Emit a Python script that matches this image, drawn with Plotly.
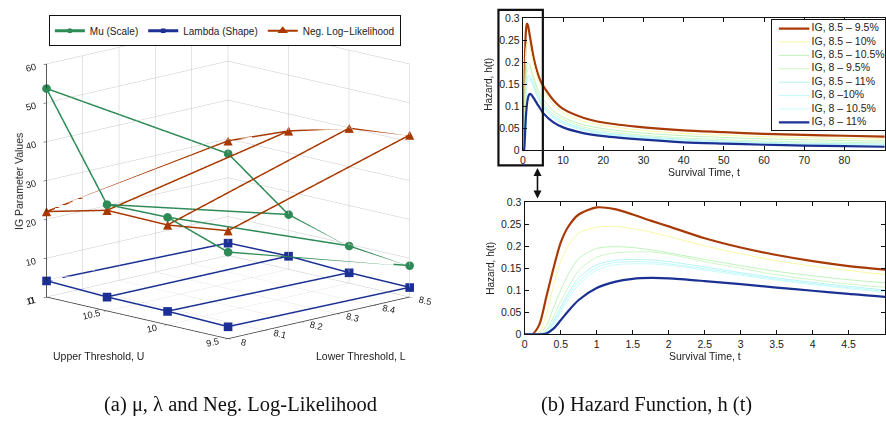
import plotly.graph_objects as go

# ---------------- (a) IG parameter fits over the threshold grid ----------------
lower_L = [8.0, 8.5]                 # lower threshold L
upper_U = [11.0, 10.5, 10.0, 9.5]    # upper threshold U

mu_at_L8 = [53.7, 27.4, 27.7, 22.3]
mu_at_L85 = [26.2, 14.1, 9.6, 8.1]
lam_at_L8 = [4.2, 3.6, 3.5, 3.1]
lam_at_L85 = [3.2, 3.4, 2.7, 2.5]
nll_at_L8 = [22.0, 25.9, 25.7, 27.8]
nll_at_L85 = [29.5, 35.6, 39.9, 41.7]

# ---------------- (b) hazard functions ----------------
t_vals = [0, 0.1, 0.2, 0.3, 0.4, 0.5, 0.6, 0.75, 1.0, 1.25, 1.5, 1.75, 2.0, 2.5,
          3.0, 3.5, 4.0, 4.5, 5.0, 7.5, 10, 15, 20, 30, 40, 50, 60, 70, 80, 90]

h_85_95 = [0, 0.0, 0.021, 0.085, 0.150, 0.208, 0.243, 0.272, 0.288, 0.284, 0.272, 0.258,
           0.245, 0.218, 0.197, 0.180, 0.166, 0.155, 0.147, 0.115, 0.094, 0.074, 0.063,
           0.052, 0.045, 0.041, 0.037, 0.035, 0.033, 0.031]
h_85_10 = [0, 0.0, 0.005, 0.045, 0.110, 0.165, 0.200, 0.230, 0.243, 0.245, 0.240, 0.232,
           0.222, 0.201, 0.183, 0.167, 0.155, 0.145, 0.136, 0.105, 0.085, 0.066, 0.056,
           0.045, 0.038, 0.034, 0.031, 0.029, 0.027, 0.026]
h_85_105 = [0, 0.0, 0.001, 0.020, 0.060, 0.100, 0.135, 0.172, 0.195, 0.199, 0.197, 0.192,
            0.185, 0.170, 0.156, 0.143, 0.133, 0.124, 0.117, 0.090, 0.075, 0.058, 0.049,
            0.039, 0.033, 0.029, 0.026, 0.024, 0.022, 0.021]
h_8_95 = [0, 0.0, 0.0, 0.010, 0.040, 0.075, 0.105, 0.145, 0.175, 0.185, 0.187, 0.187,
          0.182, 0.165, 0.150, 0.135, 0.124, 0.114, 0.107, 0.083, 0.070, 0.053, 0.044,
          0.034, 0.028, 0.024, 0.021, 0.019, 0.018, 0.017]
h_85_11 = [0, 0.0, 0.0, 0.006, 0.030, 0.062, 0.092, 0.128, 0.158, 0.168, 0.170, 0.169,
           0.165, 0.153, 0.140, 0.128, 0.118, 0.109, 0.101, 0.078, 0.065, 0.049, 0.040,
           0.031, 0.025, 0.021, 0.018, 0.016, 0.015, 0.014]
h_8_10 = [0, 0.0, 0.0, 0.004, 0.025, 0.055, 0.085, 0.120, 0.152, 0.163, 0.165, 0.164,
          0.160, 0.149, 0.137, 0.125, 0.115, 0.106, 0.098, 0.075, 0.062, 0.047, 0.038,
          0.029, 0.023, 0.019, 0.016, 0.014, 0.013, 0.012]
h_8_105 = [0, 0.0, 0.0, 0.003, 0.020, 0.049, 0.078, 0.113, 0.146, 0.158, 0.160, 0.160,
           0.157, 0.146, 0.134, 0.123, 0.113, 0.104, 0.096, 0.073, 0.060, 0.045, 0.036,
           0.027, 0.021, 0.018, 0.015, 0.013, 0.012, 0.011]
h_8_11 = [0, 0.0, 0.0, 0.002, 0.013, 0.032, 0.052, 0.078, 0.105, 0.119, 0.126, 0.128,
          0.127, 0.121, 0.114, 0.106, 0.099, 0.092, 0.085, 0.064, 0.052, 0.039, 0.032,
          0.024, 0.018, 0.015, 0.0125, 0.0105, 0.0095, 0.008]

hazard_labels = ["IG, 8.5 \u2013 9.5%", "IG, 8.5 \u2013 10%", "IG, 8.5 \u2013 10.5%",
                 "IG, 8 \u2013 9.5%", "IG, 8.5 \u2013 11%", "IG, 8 \u201310%",
                 "IG, 8 \u2013 10.5%", "IG, 8 \u2013 11%"]
hazard_series = [h_85_95, h_85_10, h_85_105, h_8_95, h_85_11, h_8_10, h_8_105, h_8_11]
hazard_colors = ["#a83a06", "#f7f7a6", "#bff2bb", "#cdf7c4", "#b5f4f4", "#c0f8fa",
                 "#c9fbfb", "#1b3093"]
hazard_widths = [2.2, 1, 1, 1, 1, 1, 1, 2.2]

FONT = "Liberation Sans, Arial, sans-serif"
GREEN, BLUE, RED = "#2e8b57", "#1b2f94", "#a83800"


def grid_lines(v8, v85):
    """Polylines along U at each L, and along L at each U."""
    xs, ys, zs = [], [], []
    for L, vals in zip(lower_L, (v8, v85)):
        xs += [L] * len(upper_U) + [None]
        ys += upper_U + [None]
        zs += list(vals) + [None]
    for i, U in enumerate(upper_U):
        xs += [lower_L[0], lower_L[1], None]
        ys += [U, U, None]
        zs += [v8[i], v85[i], None]
    return xs, ys, zs


fig = go.Figure()

# Mu (Scale)
x, y, z = grid_lines(mu_at_L8, mu_at_L85)
fig.add_trace(go.Scatter3d(x=x, y=y, z=z, mode="lines+markers", name="Mu (Scale)",
                           line=dict(color=GREEN, width=3),
                           marker=dict(symbol="circle", size=5, color=GREEN),
                           hoverinfo="skip"))
# Lambda (Shape)
x, y, z = grid_lines(lam_at_L8, lam_at_L85)
fig.add_trace(go.Scatter3d(x=x, y=y, z=z, mode="lines+markers", name="Lambda (Shape)",
                           line=dict(color=BLUE, width=3),
                           marker=dict(symbol="square", size=4.5, color=BLUE),
                           hoverinfo="skip"))
# legend entry for the triangle-marked series
fig.add_trace(go.Scatter(x=[None], y=[None], xaxis="x2", yaxis="y2", mode="lines+markers",
                         name="Neg. Log\u2212Likelihood",
                         line=dict(color=RED, width=2),
                         marker=dict(symbol="triangle-up", size=9, color=RED)))
# Neg. Log-Likelihood
x, y, z = grid_lines(nll_at_L8, nll_at_L85)
fig.add_trace(go.Scatter3d(x=x, y=y, z=z, mode="lines", showlegend=False,
                           line=dict(color=RED, width=3), hoverinfo="skip"))
pts_L = [lower_L[0]] * 4 + [lower_L[1]] * 4
pts_U = upper_U + upper_U
fig.add_trace(go.Scatter3d(x=pts_L, y=pts_U, z=nll_at_L8 + nll_at_L85, mode="text",
                           text=["\u25b2"] * 8, textposition="middle center",
                           textfont=dict(color=RED, size=12, family="DejaVu Sans"),
                           showlegend=False, hoverinfo="skip"))

# hazard curves: full range (top) and zoom on 0-5 (bottom)
for lbl, h, c, w in zip(hazard_labels, hazard_series, hazard_colors, hazard_widths):
    for xa, ya in (("x2", "y2"), ("x3", "y3")):
        fig.add_trace(go.Scatter(x=t_vals, y=h, xaxis=xa, yaxis=ya, mode="lines",
                                 name=lbl, showlegend=False, hoverinfo="skip",
                                 line=dict(color=c, width=w, shape="spline",
                                           smoothing=0.8)))

# legend box of the hazard panel
rows = list(range(1, len(hazard_labels) + 1))
for r, c, w in zip(rows, hazard_colors, hazard_widths):
    fig.add_trace(go.Scatter(x=[0.06, 0.33], y=[r, r], xaxis="x4", yaxis="y4",
                             mode="lines", showlegend=False, hoverinfo="skip",
                             line=dict(color=c, width=w)))
fig.add_trace(go.Scatter(x=[0.35] * len(rows), y=rows, xaxis="x4", yaxis="y4",
                         mode="text", text=hazard_labels, textposition="middle right",
                         textfont=dict(family=FONT, size=10.5, color="#222"),
                         showlegend=False, hoverinfo="skip"))

ax3d = dict(showbackground=False, gridcolor="#c8c8c8", gridwidth=1, zeroline=False,
            showline=True, linecolor="#222", linewidth=1.5, ticks="outside",
            tickcolor="#222", ticklen=4, showspikes=False, title=dict(text=""),
            tickfont=dict(family=FONT, size=10.5, color="#222"))

cart = dict(showline=True, mirror="ticks", linecolor="#111", linewidth=1.3,
            ticks="inside", ticklen=4, tickcolor="#111", showgrid=False, zeroline=False,
            tickfont=dict(family=FONT, size=10.5, color="#222"), fixedrange=True)

fig.update_layout(
    width=886, height=435, margin=dict(l=0, r=0, t=0, b=0),
    paper_bgcolor="white", plot_bgcolor="white",
    scene=dict(
        domain=dict(x=[0.0, 0.510], y=[0.177, 0.997]),
        xaxis=dict(ax3d, range=[8, 8.5], dtick=0.1),
        yaxis=dict(ax3d, range=[9.5, 11], dtick=0.5),
        zaxis=dict(ax3d, range=[0, 60], dtick=10),
        aspectmode="manual", aspectratio=dict(x=1.48, y=1.48, z=1.38),
        camera=dict(eye=dict(x=-1.5, y=-1.5, z=0.5), up=dict(x=0, y=0, z=1),
                    center=dict(x=0, y=0, z=0),
                    projection=dict(type="orthographic")),
        bgcolor="white",
    ),
    xaxis2=dict(cart, domain=[0.5895, 1.0], range=[0, 90.1], dtick=10, anchor="y2",
                title=dict(text="Survival Time, t", standoff=2,
                           font=dict(family=FONT, size=10.5, color="#222"))),
    yaxis2=dict(cart, domain=[0.659, 0.971], range=[0, 0.3], dtick=0.05, anchor="x2",
                title=dict(text="Hazard, h(t)", standoff=4,
                           font=dict(family=FONT, size=10, color="#222"))),
    xaxis3=dict(cart, domain=[0.5915, 1.0], range=[0, 5.005], dtick=0.5, anchor="y3",
                title=dict(text="Survival Time, t", standoff=2,
                           font=dict(family=FONT, size=10.5, color="#222"))),
    yaxis3=dict(cart, domain=[0.2237, 0.5363], range=[0, 0.3], dtick=0.05, anchor="x3",
                title=dict(text="Hazard, h(t)", standoff=4,
                           font=dict(family=FONT, size=10, color="#222"))),
    xaxis4=dict(domain=[0.872, 1.0], range=[0, 1], anchor="y4", showline=True,
                mirror=True, linecolor="#111", linewidth=1.3, showticklabels=False,
                ticks="", showgrid=False, zeroline=False, fixedrange=True),
    yaxis4=dict(domain=[0.706, 0.968], range=[8.59, 0.33], anchor="x4", showline=True,
                mirror=True, linecolor="#111", linewidth=1.3, showticklabels=False,
                ticks="", showgrid=False, zeroline=False, fixedrange=True),
    legend=dict(orientation="h", x=0.052, y=0.978, xanchor="left", yanchor="top",
                bordercolor="#111", borderwidth=1, bgcolor="white",
                font=dict(family=FONT, size=10, color="#222"), itemwidth=30),
    showlegend=True,
)

# zoom window on the full-range panel and the link arrow
fig.add_shape(type="rect", xref="paper", yref="paper", x0=497.7 / 886, x1=542.3 / 886,
              y0=0.623, y1=0.991, line=dict(color="#111", width=2.2),
              fillcolor="rgba(0,0,0,0)")
fig.add_annotation(xref="paper", yref="paper", x=0.606, y=0.545, ax=0, ay=-32,
                   text="", showarrow=True, arrowhead=2, arrowside="end+start",
                   arrowsize=1, arrowwidth=1.6, arrowcolor="#111")

# axis titles of the 3-D panel
lab = dict(family=FONT, size=10.5, color="#222")
fig.add_annotation(xref="paper", yref="paper", x=16 / 886, y=1 - 180 / 435,
                   xanchor="center", yanchor="middle",
                   text="IG Parameter Values", textangle=-90, showarrow=False, font=lab)
fig.add_annotation(xref="paper", yref="paper", x=96 / 886, y=1 - 360 / 435,
                   xanchor="center", yanchor="middle",
                   text="Upper Threshold, U", showarrow=False, font=lab)
fig.add_annotation(xref="paper", yref="paper", x=360 / 886, y=1 - 360 / 435,
                   xanchor="center", yanchor="middle",
                   text="Lower Threshold, L", showarrow=False, font=lab)

# sub-captions
cap = dict(family="Liberation Serif, serif", size=20.5, color="#111")
fig.add_annotation(xref="paper", yref="paper", x=239 / 886, y=1 - 410 / 435,
                   xanchor="center", yanchor="middle",
                   text="(a) \u03bc, \u03bb and Neg. Log-Likelihood", showarrow=False,
                   font=cap)
fig.add_annotation(xref="paper", yref="paper", x=646 / 886, y=1 - 410 / 435,
                   xanchor="center", yanchor="middle",
                   text="(b) Hazard Function, h (t)", showarrow=False, font=cap)

fig.write_html("out.html")
